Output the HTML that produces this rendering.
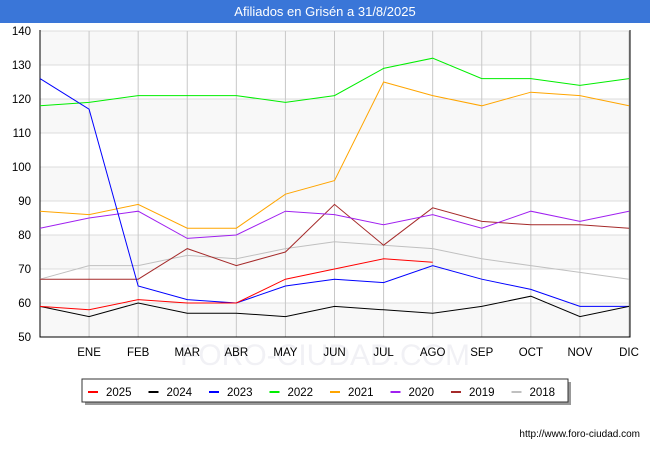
<!DOCTYPE html>
<html><head><meta charset="utf-8"><style>
body{margin:0;background:#fff;font-family:"Liberation Sans",sans-serif}
</style></head><body>
<svg id="c" width="650" height="450" xmlns="http://www.w3.org/2000/svg" font-family="Liberation Sans, sans-serif">
<rect x="0" y="0" width="650" height="450" fill="#fff"/>
<rect x="0" y="0" width="650" height="23" fill="#3a76d8"/>
<text x="325" y="16" text-anchor="middle" fill="#fff" font-size="13">Afiliados en Grisén a 31/8/2025</text>
<g id="bands"></g><g id="grid"></g>
<text x="325" y="365" text-anchor="middle" font-size="30" fill="#f1f1f5">FORO-CIUDAD.COM</text>
<g id="axes"></g><g id="series"></g>
<rect x="85" y="382" width="486" height="23" fill="#999"/>
<rect x="82" y="379" width="486" height="23" fill="#fff" stroke="#333"/>
<g id="legend"></g>
<text x="640" y="437" text-anchor="end" font-size="10" fill="#000">http://www.foro-ciudad.com</text>
</svg>
<script>
const categories=["","ENE","FEB","MAR","ABR","MAY","JUN","JUL","AGO","SEP","OCT","NOV","DIC"];
const yTicks=[50,60,70,80,90,100,110,120,130,140];
const names=["2025","2024","2023","2022","2021","2020","2019","2018"];
const colors=["#ff0000","#000000","#0000ff","#00ee00","#ffa500","#a020f0","#a52a2a","#c0c0c0"];
const s2025=[59,58,61,60,60,67,70,73,72];
const s2024=[59,56,60,57,57,56,59,58,57,59,62,56,59];
const s2023=[126,117,65,61,60,65,67,66,71,67,64,59,59];
const s2022=[118,119,121,121,121,119,121,129,132,126,126,124,126];
const s2021=[87,86,89,82,82,92,96,125,121,118,122,121,118];
const s2020=[82,85,87,79,80,87,86,83,86,82,87,84,87];
const s2019=[67,67,67,76,71,75,89,77,88,84,83,83,82];
const s2018=[67,71,71,74,73,76,78,77,76,73,71,69,67];
const series=[s2025,s2024,s2023,s2022,s2021,s2020,s2019,s2018];
const NS="http://www.w3.org/2000/svg";
const X0=40,X1=629,Y0=337,Y1=31;
const x=i=>X0+(X1-X0)*i/(categories.length-1);
const y=v=>Y0-(v-50)/(140-50)*(Y0-Y1);
function mk(t,a,p){const e=document.createElementNS(NS,t);for(const k in a)e.setAttribute(k,a[k]);p.appendChild(e);return e;}
const bands=document.getElementById('bands'),grid=document.getElementById('grid'),axes=document.getElementById('axes'),ser=document.getElementById('series'),leg=document.getElementById('legend');
for(let i=0;i<yTicks.length-1;i++){if(i%2==0){const r=mk('rect',{x:X0,y:y(yTicks[i+1]),width:X1-X0,height:y(yTicks[i])-y(yTicks[i+1]),fill:'#f8f8f8'},bands);

}}
yTicks.forEach(v=>{const l=mk('line',{x1:X0,x2:X1,y1:y(v),y2:y(v),stroke:'#dcdcdc'},grid);


const t=mk('text',{x:X0-9,y:y(v)+4,'text-anchor':'end','font-size':'11.5',fill:'#000'},axes);t.textContent=v;

});
categories.forEach((c,i)=>{if(i>0){const l=mk('line',{x1:x(i),x2:x(i),y1:Y1,y2:Y0,stroke:'#c8c8c8'},grid);

}
const t=mk('text',{x:x(i),y:356,'text-anchor':'middle','font-size':'11.5',fill:'#000'},axes);t.textContent=c;

});
const ax=mk('path',{d:`M${X0} ${Y1-1}V${Y0}H${X1+1}V${Y1-1}`,fill:'none',stroke:'#000'},axes);


for(let k=series.length-1;k>=0;k--){const d=series[k].map((v,i)=>(i?'L':'M')+x(i)+' '+y(v)).join('');
const p=mk('path',{d:d,fill:'none',stroke:colors[k],'stroke-width':1},ser);

}
names.forEach((n,k)=>{const lx=88+k*60.5;
const l=mk('line',{x1:lx,x2:lx+10,y1:392,y2:392,stroke:colors[k],'stroke-width':2},leg);


const t=mk('text',{x:lx+18,y:396,'font-size':'11.5',fill:'#000'},leg);t.textContent=n;

});
</script>
</body></html>
